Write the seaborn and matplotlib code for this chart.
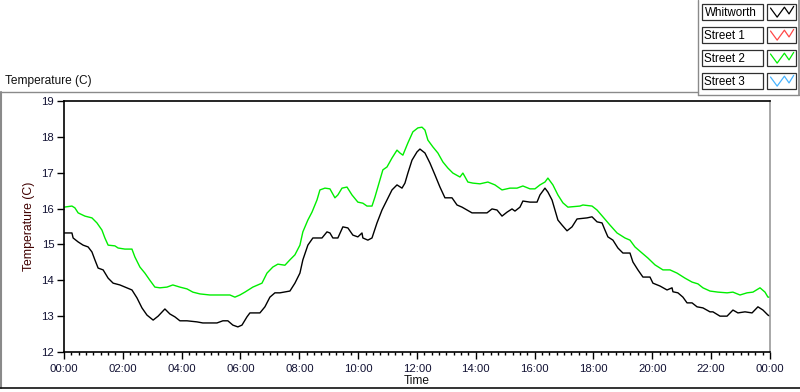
import numpy as np
import pandas as pd
import matplotlib
matplotlib.use("Agg")
import matplotlib.pyplot as plt
from matplotlib.ticker import MultipleLocator
import seaborn as sns

# --- data (hours since midnight, temperature in C) ---
whitworth_hours = [0, 0.27, 0.31, 0.48, 0.65, 0.82, 0.95, 1.05, 1.16, 1.33, 1.50, 1.67, 1.90, 2.14,
                   2.31, 2.48, 2.65, 2.82, 3.03, 3.20, 3.43, 3.60, 3.77, 3.94, 4.18, 4.52, 4.72, 5.20,
                   5.40, 5.57, 5.74, 5.91, 6.05, 6.22, 6.32, 6.66, 6.83, 7.00, 7.17, 7.34, 7.68, 7.85,
                   8.02, 8.12, 8.29, 8.46, 8.77, 8.94, 9.04, 9.14, 9.31, 9.48, 9.65, 9.82, 9.99, 10.13,
                   10.16, 10.33, 10.47, 10.64, 10.81, 10.98, 11.15, 11.32, 11.49, 11.59, 11.69, 11.83,
                   12.00, 12.10, 12.27, 12.44, 12.61, 12.78, 12.95, 13.19, 13.36, 13.53, 13.70, 13.87,
                   14.14, 14.38, 14.55, 14.72, 14.89, 15.06, 15.23, 15.33, 15.50, 15.60, 15.84, 16.08,
                   16.18, 16.35, 16.45, 16.59, 16.69, 16.79, 16.93, 17.10, 17.27, 17.44, 17.78, 17.95,
                   18.12, 18.29, 18.39, 18.49, 18.66, 18.83, 19.00, 19.24, 19.34, 19.51, 19.68, 19.92,
                   20.02, 20.26, 20.50, 20.67, 20.70, 20.87, 21.04, 21.18, 21.35, 21.52, 21.72, 21.96,
                   22.06, 22.30, 22.54, 22.74, 22.91, 23.15, 23.39, 23.59, 23.76, 23.93, 24.0]
whitworth_temp = [15.32, 15.32, 15.18, 15.07, 14.98, 14.93, 14.79, 14.57, 14.34, 14.29, 14.06, 13.92,
                  13.87, 13.79, 13.73, 13.51, 13.23, 13.03, 12.89, 13.00, 13.20, 13.06, 12.98, 12.87,
                  12.87, 12.84, 12.81, 12.81, 12.87, 12.87, 12.75, 12.70, 12.75, 12.98, 13.09, 13.09,
                  13.26, 13.53, 13.65, 13.65, 13.70, 13.92, 14.20, 14.57, 14.98, 15.18, 15.18, 15.35,
                  15.32, 15.18, 15.18, 15.49, 15.46, 15.26, 15.21, 15.32, 15.18, 15.12, 15.18, 15.60,
                  15.96, 16.24, 16.52, 16.66, 16.57, 16.71, 16.99, 17.35, 17.58, 17.66, 17.55, 17.27,
                  16.94, 16.60, 16.30, 16.30, 16.10, 16.04, 15.96, 15.88, 15.88, 15.88, 15.99, 15.96,
                  15.79, 15.90, 15.99, 15.93, 16.04, 16.21, 16.18, 16.18, 16.38, 16.57, 16.46, 16.24,
                  15.96, 15.68, 15.54, 15.38, 15.49, 15.71, 15.74, 15.77, 15.63, 15.60, 15.40, 15.21,
                  15.12, 14.90, 14.76, 14.76, 14.51, 14.29, 14.09, 14.09, 13.92, 13.84, 13.73, 13.79,
                  13.68, 13.65, 13.53, 13.37, 13.37, 13.26, 13.23, 13.12, 13.12, 13.00, 13.00, 13.17,
                  13.09, 13.12, 13.09, 13.26, 13.17, 13.03, 13.00]

street2_hours = [0, 0.27, 0.37, 0.48, 0.71, 0.95, 1.12, 1.29, 1.39, 1.50, 1.73, 1.84, 2.07, 2.31,
                 2.41, 2.58, 2.75, 2.92, 3.09, 3.26, 3.50, 3.70, 3.94, 4.18, 4.38, 4.62, 4.96, 5.40,
                 5.64, 5.81, 5.98, 6.15, 6.42, 6.73, 6.90, 7.10, 7.27, 7.51, 7.68, 7.85, 8.02, 8.12,
                 8.29, 8.43, 8.60, 8.70, 8.87, 9.04, 9.21, 9.31, 9.45, 9.62, 9.79, 9.99, 10.16, 10.30,
                 10.47, 10.57, 10.74, 10.84, 10.98, 11.15, 11.32, 11.42, 11.52, 11.69, 11.86, 12.03,
                 12.17, 12.27, 12.37, 12.54, 12.71, 12.88, 13.05, 13.22, 13.46, 13.56, 13.73, 13.90,
                 14.14, 14.41, 14.65, 14.89, 15.16, 15.40, 15.60, 15.84, 16.01, 16.18, 16.35, 16.45,
                 16.62, 16.79, 16.96, 17.13, 17.54, 17.64, 17.95, 18.12, 18.32, 18.56, 18.80, 19.07,
                 19.24, 19.41, 19.65, 19.85, 20.09, 20.36, 20.60, 20.84, 21.11, 21.35, 21.55, 21.72,
                 21.96, 22.23, 22.54, 22.74, 22.98, 23.22, 23.42, 23.66, 23.83, 23.93, 24.0]
street2_temp = [16.04, 16.07, 16.02, 15.88, 15.79, 15.74, 15.60, 15.40, 15.18, 14.98, 14.96, 14.90,
                14.87, 14.87, 14.65, 14.37, 14.20, 14.00, 13.81, 13.79, 13.81, 13.87, 13.81, 13.76,
                13.67, 13.62, 13.59, 13.59, 13.59, 13.53, 13.59, 13.67, 13.81, 13.92, 14.20, 14.37,
                14.45, 14.42, 14.57, 14.71, 14.98, 15.35, 15.68, 15.90, 16.24, 16.52, 16.57, 16.55,
                16.30, 16.38, 16.57, 16.60, 16.38, 16.18, 16.15, 16.07, 16.07, 16.32, 16.80, 17.08,
                17.16, 17.41, 17.63, 17.55, 17.49, 17.83, 18.14, 18.25, 18.27, 18.19, 17.91, 17.72,
                17.55, 17.30, 17.13, 16.99, 16.88, 16.99, 16.74, 16.71, 16.69, 16.74, 16.66, 16.52,
                16.57, 16.57, 16.63, 16.55, 16.55, 16.66, 16.74, 16.85, 16.66, 16.38, 16.16, 16.04,
                16.07, 16.10, 16.07, 15.96, 15.77, 15.54, 15.32, 15.18, 15.12, 14.93, 14.76, 14.62,
                14.43, 14.29, 14.29, 14.20, 14.06, 13.95, 13.90, 13.79, 13.70, 13.67, 13.65, 13.67,
                13.59, 13.65, 13.67, 13.79, 13.67, 13.53, 13.53]

legend_names = ["Whitworth", "Street 1", "Street 2", "Street 3"]
legend_colors = ["#000000", "#ff4848", "#00ee00", "#48b4ff"]

y_ticks = [12, 13, 14, 15, 16, 17, 18, 19]
x_ticks = list(range(0, 25, 2))
x_tick_labels = [f"{h % 24:02d}:00" for h in x_ticks]

sns.set_theme(style="white")
plt.rcParams["font.family"] = ["Liberation Sans", "DejaVu Sans"]

W, H = 800, 392
fig = plt.figure(figsize=(W / 100, H / 100), dpi=100)

# panel frame drawn in pixel coordinates
frame = fig.add_axes([0, 0, 1, 1])
frame.set_xlim(0, W)
frame.set_ylim(H, 0)
frame.axis("off")
gray = "#8a8a8a"
frame.plot([0, 698], [92, 92], color=gray, lw=1)
frame.plot([1, 1], [92, 388], color=gray, lw=1.5)
frame.plot([0, W], [388, 388], color="#111111", lw=1.2)
frame.plot([698, 698], [0, 95], color=gray, lw=1)
frame.plot([698, 799], [95, 95], color=gray, lw=1)
frame.plot([799, 799], [0, 95], color=gray, lw=1.2)
frame.text(5, 81, "Temperature (C)", fontsize=8.6, color="#111111", va="center", ha="left")

# legend boxes
zig_x = np.array([0.12, 0.35, 0.6, 0.76, 0.92])
zig_y = np.array([0.25, 0.82, 0.2, 0.62, 0.15])
for i, (name, col) in enumerate(zip(legend_names, legend_colors)):
    top = 4 + i * 23
    frame.add_patch(plt.Rectangle((702, top), 61, 16, facecolor="white",
                                  edgecolor="#303030", lw=0.9))
    frame.text(704.5, top + 8.5, name, fontsize=8.4, color="black", va="center", ha="left")
    frame.add_patch(plt.Rectangle((767, top), 29, 16, facecolor="white",
                                  edgecolor="#303030", lw=0.9))
    frame.plot(767 + zig_x * 29, top + zig_y * 16, color=col, lw=0.9)

# plot area
ax = fig.add_axes([64 / W, 40 / H, 706 / W, 251 / H])
ax.set_facecolor("white")
df_w = pd.DataFrame({"hour": whitworth_hours, "temp": whitworth_temp})
df_s2 = pd.DataFrame({"hour": street2_hours, "temp": street2_temp})
sns.lineplot(data=df_s2, x="hour", y="temp", color="#00ee00", lw=1.0,
             estimator=None, sort=False, ax=ax)
sns.lineplot(data=df_w, x="hour", y="temp", color="black", lw=1.0,
             estimator=None, sort=False, ax=ax)

ax.set_xlim(0, 24)
ax.set_ylim(12, 19)
ax.set_xticks(x_ticks)
ax.set_xticklabels(x_tick_labels)
ax.xaxis.set_minor_locator(MultipleLocator(0.25))
ax.set_yticks(y_ticks)
ax.tick_params(axis="both", which="major", direction="out", length=5, width=1,
               color="black", labelsize=8.2, labelcolor="#111133", pad=2,
               bottom=True, left=True)
ax.tick_params(axis="x", which="major", pad=4)
ax.tick_params(axis="x", which="minor", direction="out", length=2.5, width=1,
               color="black", bottom=True)
ax.set_xlabel("Time", fontsize=8.6, color="#111111", labelpad=0.5)
ax.set_ylabel("Temperature (C)", fontsize=8.8, color="#400000", labelpad=5)
ax.grid(False)
for side in ["left", "top", "bottom"]:
    ax.spines[side].set_color("black")
    ax.spines[side].set_linewidth(1.2)
ax.spines["right"].set_color("#999999")
ax.spines["right"].set_linewidth(1.2)

fig.savefig("out.png", dpi=100)
